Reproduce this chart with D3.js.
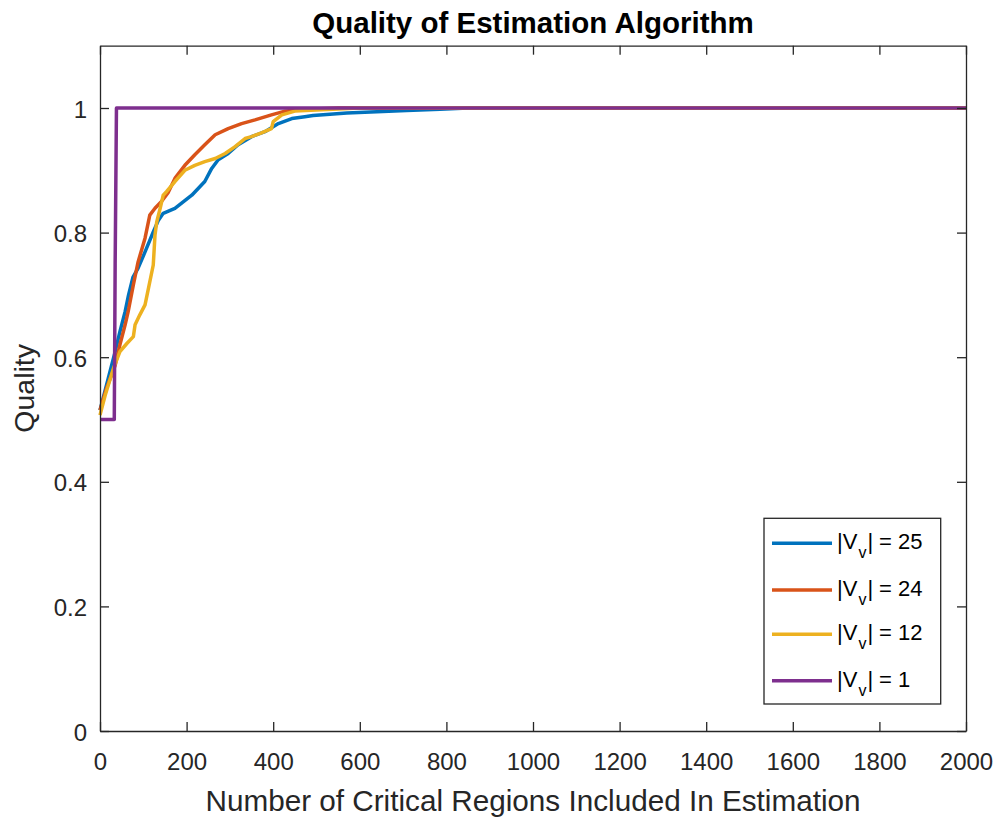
<!DOCTYPE html>
<html>
<head>
<meta charset="utf-8">
<script src="https://cdn.jsdelivr.net/npm/d3@7"></script>
<style>
  body { margin: 0; background: #fff; }
  svg { display: block; font-family: "Liberation Sans", Arial, Helvetica, sans-serif; }
</style>
</head>
<body>
<svg id="chart" width="1000" height="821"></svg>
<script>
// values
const xTicks = [0, 200, 400, 600, 800, 1000, 1200, 1400, 1600, 1800, 2000];
const yTicks = [0, 0.2, 0.4, 0.6, 0.8, 1];
const yTickLabels = ["0", "0.2", "0.4", "0.6", "0.8", "1"];

const names = ["25", "24", "12", "1"];
const colors = ["#0072BD", "#D95319", "#EDB120", "#7E2F8E"];

const x25 = [0, 19, 35, 46, 58, 66, 76, 88, 104, 123, 135, 146, 173, 212, 242, 258, 273, 296, 319, 350, 381, 412, 443, 473, 492, 570, 708, 785, 850, 2000];
const y25 = [.515, .566, .609, .641, .673, .70, .728, .743, .769, .801, .820, .831, .839, .860, .882, .903, .917, .927, .941, .954, .962, .975, .983, .986, .988, .992, .996, .998, 1, 1];

const x24 = [0, 15, 35, 46, 58, 65, 77, 88, 104, 115, 127, 142, 158, 173, 196, 219, 242, 266, 296, 327, 358, 396, 427, 450, 550, 2000];
const y24 = [.515, .55, .587, .62, .652, .673, .716, .753, .791, .828, .839, .850, .865, .887, .908, .925, .941, .957, .967, .975, .981, .989, .995, .997, 1, 1];

const x12 = [0, 12, 31, 46, 62, 77, 81, 92, 104, 112, 123, 127, 131, 139, 146, 154, 173, 196, 219, 242, 266, 289, 312, 335, 350, 373, 396, 400, 420, 450, 600, 2000];
const y12 = [.507, .539, .582, .609, .622, .633, .652, .668, .684, .711, .748, .796, .817, .839, .86, .866, .882, .90, .908, .914, .919, .927, .938, .951, .954, .960, .967, .978, .989, .995, 1, 1];

const x1 = [0, 33, 35, 38, 2000];
const y1 = [.5, .5, .75, 1, 1];

const seriesX = [x25, x24, x12, x1];
const seriesY = [y25, y24, y12, y1];

const pLeft = 100, pRight = 966, pTop = 45.7, pBottom = 731;
const axisColor = "#262626";

const svg = d3.select("#chart");
const x = d3.scaleLinear().domain([0, 2000]).range([pLeft, pRight]);
const y = d3.scaleLinear().domain([0, 1.1]).range([pBottom, pTop]);

// box
svg.append("rect")
  .attr("x", pLeft).attr("y", pTop)
  .attr("width", pRight - pLeft).attr("height", pBottom - pTop)
  .attr("fill", "#fff");

// lines (drawn under the axes)
const line = d3.line().x(d => x(d[0])).y(d => y(d[1]));
const plot = svg.append("g");
seriesX.forEach((xs, i) => {
  const pts = xs.map((v, j) => [v, seriesY[i][j]]);
  plot.append("path")
    .attr("d", line(pts))
    .attr("fill", "none")
    .attr("stroke", colors[i])
    .attr("stroke-width", 3.5)
    .attr("stroke-linejoin", "round");
});

// axes: ticks inside on all four sides
const tl = 9;
function styleAxis(g) {
  g.selectAll("path.domain").attr("stroke", axisColor).attr("stroke-width", 1.3);
  g.selectAll(".tick line").attr("stroke", axisColor).attr("stroke-width", 1.3);
}

const xb = svg.append("g").attr("transform", `translate(0,${pBottom})`)
  .call(d3.axisBottom(x).tickValues(xTicks).tickSize(-tl).tickSizeOuter(0).tickFormat(d3.format("d")));
styleAxis(xb);
xb.selectAll(".tick text")
  .attr("y", 39).attr("dy", 0)
  .attr("font-size", 24).attr("fill", axisColor)
  .attr("font-family", "Liberation Sans, Arial, sans-serif");

const xt = svg.append("g").attr("transform", `translate(0,${pTop})`)
  .call(d3.axisTop(x).tickValues(xTicks).tickSize(-tl).tickSizeOuter(0).tickFormat(""));
styleAxis(xt);

const yl = svg.append("g").attr("transform", `translate(${pLeft},0)`)
  .call(d3.axisLeft(y).tickValues(yTicks).tickSize(-tl).tickSizeOuter(0)
    .tickFormat((d, i) => yTickLabels[i]));
styleAxis(yl);
yl.selectAll(".tick text")
  .attr("x", -13).attr("dy", "0.38em")
  .attr("font-size", 24).attr("fill", axisColor)
  .attr("font-family", "Liberation Sans, Arial, sans-serif");

const yr = svg.append("g").attr("transform", `translate(${pRight},0)`)
  .call(d3.axisRight(y).tickValues(yTicks).tickSize(-tl).tickSizeOuter(0).tickFormat(""));
styleAxis(yr);

// title and labels
svg.append("text")
  .attr("x", (pLeft + pRight) / 2).attr("y", 33)
  .attr("text-anchor", "middle")
  .attr("font-size", 29.5).attr("font-weight", "bold").attr("fill", "#000")
  .text("Quality of Estimation Algorithm");

svg.append("text")
  .attr("x", (pLeft + pRight) / 2).attr("y", 811)
  .attr("text-anchor", "middle")
  .attr("font-size", 29.7).attr("fill", axisColor)
  .text("Number of Critical Regions Included In Estimation");

svg.append("text")
  .attr("transform", `translate(33.5,${(pTop + pBottom) / 2}) rotate(-90)`)
  .attr("text-anchor", "middle")
  .attr("font-size", 28.5).attr("fill", axisColor)
  .text("Quality");

// legend
const lg = svg.append("g");
lg.append("rect")
  .attr("x", 764).attr("y", 518.3)
  .attr("width", 176.7).attr("height", 185.7)
  .attr("fill", "#fff").attr("stroke", axisColor).attr("stroke-width", 1.3);
const rowY = [543.3, 590, 634.3, 680.7];
names.forEach((n, i) => {
  lg.append("line")
    .attr("x1", 772).attr("x2", 832)
    .attr("y1", rowY[i]).attr("y2", rowY[i])
    .attr("stroke", colors[i]).attr("stroke-width", 3.5);
  const t = lg.append("text")
    .attr("x", 837).attr("y", rowY[i] + 6)
    .attr("font-size", 22).attr("fill", "#000");
  t.append("tspan").text("|V");
  t.append("tspan").attr("font-size", 16).attr("dx", 1).attr("dy", 9).text("v");
  t.append("tspan").attr("dx", 1).attr("dy", -9).text("|");
  t.append("tspan").attr("dx", 6).text("= " + n);
});
</script>
</body>
</html>
